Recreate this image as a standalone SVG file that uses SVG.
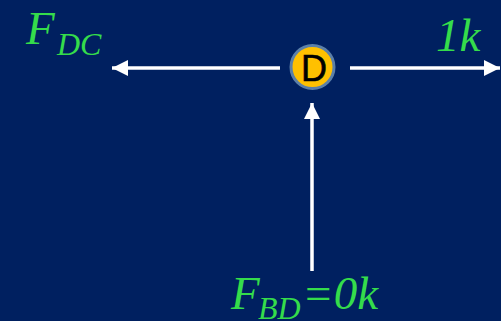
<svg xmlns="http://www.w3.org/2000/svg" width="501" height="321" viewBox="0 0 501 321">
<defs>
<style>
.lbl{font-family:"Liberation Serif","Times New Roman",serif;font-style:italic;fill:#35DC4B;}
.big{font-size:47px;}
.sub{font-size:32px;}
.conn{stroke:#FFFFFF;stroke-width:3.5;fill:none;}
</style>
<marker id="ah" viewBox="0 0 16 16" refX="16" refY="8" markerWidth="16" markerHeight="16" markerUnits="userSpaceOnUse" orient="auto">
<path d="M0,0 L16,8 L0,16 Z" fill="#FFFFFF"/>
</marker>
</defs>
<rect width="501" height="321" fill="#002060"/>
<g id="connectors">
<line class="conn" x1="280" y1="68" x2="112" y2="68" marker-end="url(#ah)"/>
<line class="conn" x1="350" y1="68" x2="500" y2="68" marker-end="url(#ah)"/>
<line class="conn" x1="312" y1="271" x2="312" y2="103" marker-end="url(#ah)"/>
</g>
<g id="node-D">
<circle cx="312.5" cy="67" r="21.5" fill="#FFC000" stroke="#5B7FA8" stroke-width="3"/>
<text x="314" y="81" text-anchor="middle" font-family="Liberation Sans, Arial, sans-serif" font-size="36" fill="#000000" stroke="#000000" stroke-width="0.6">D</text>
</g>
<g id="label-FDC">
<text class="lbl big" x="26" y="44">F<tspan class="sub" x="57" y="55">DC</tspan></text>
</g>
<g id="label-1k">
<text class="lbl big" x="436" y="51">1k</text>
</g>
<g id="label-FBD">
<text class="lbl big" x="231" y="309">F<tspan class="sub" x="258" y="319">BD</tspan><tspan x="302" y="309">=0k</tspan></text>
</g>
</svg>
